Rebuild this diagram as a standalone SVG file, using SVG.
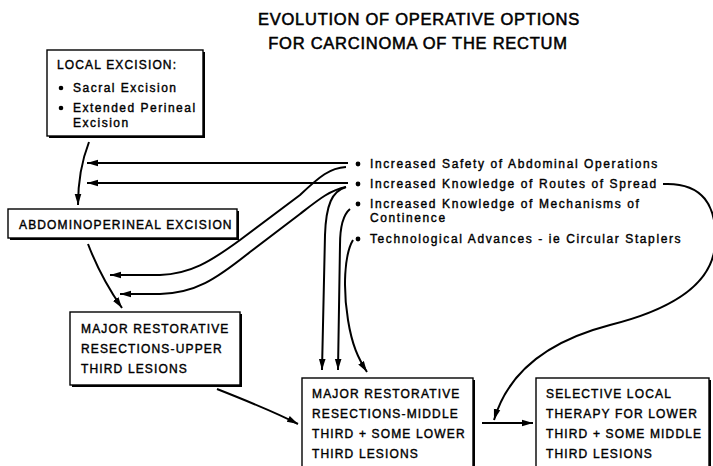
<svg xmlns="http://www.w3.org/2000/svg" width="713" height="466" viewBox="0 0 713 466">
<defs>
<marker id="ah" markerUnits="userSpaceOnUse" markerWidth="12" markerHeight="8" refX="11" refY="4" orient="auto">
<path d="M0,0.7 L11,4 L0,7.3 Z" fill="#000"/>
</marker>
<style>
.t{font-family:"Liberation Sans",Arial,sans-serif;fill:#000;stroke:#000;stroke-width:0.4}
.title{font-size:16.5px;letter-spacing:0.75px;text-anchor:middle;stroke-width:0.55}
.cap{font-size:12px;letter-spacing:1.15px}
.mix{font-size:12px;letter-spacing:1.5px}
.lst{font-size:12px;letter-spacing:1.6px}
.box{fill:#fff;stroke:#000;stroke-width:1.4}
.sh{fill:#000}
.c{fill:none;stroke:#000;stroke-width:2;marker-end:url(#ah)}
</style>
</defs>
<rect width="713" height="466" fill="#fff"/>
<g id="title">
<text class="t title" x="419" y="25">EVOLUTION OF OPERATIVE OPTIONS</text>
<text class="t title" x="418" y="49">FOR CARCINOMA OF THE RECTUM</text>
</g>
<g id="local">
<rect class="sh" x="49" y="52" width="156" height="86"/>
<rect class="box" x="47" y="50" width="156" height="86"/>
<text class="t cap" x="57" y="69">LOCAL EXCISION:</text>
<circle cx="61" cy="88" r="2.3"/>
<text class="t mix" x="73" y="92">Sacral Excision</text>
<circle cx="61" cy="108" r="2.3"/>
<text class="t mix" x="73" y="112">Extended Perineal</text>
<text class="t mix" x="73" y="127">Excision</text>
</g>
<g id="abdomino">
<rect class="sh" x="10" y="211" width="229" height="29"/>
<rect class="box" x="8" y="209" width="229" height="29"/>
<text class="t cap" x="19" y="229">ABDOMINOPERINEAL EXCISION</text>
</g>
<g id="upper">
<rect class="sh" x="72" y="314" width="170" height="73"/>
<rect class="box" x="70" y="312" width="170" height="73"/>
<text class="t cap" x="81" y="333">MAJOR RESTORATIVE</text>
<text class="t cap" x="81" y="353">RESECTIONS-UPPER</text>
<text class="t cap" x="81" y="373">THIRD LESIONS</text>
</g>
<g id="middle">
<rect class="sh" x="304" y="380" width="171" height="100"/>
<rect class="box" x="302" y="378" width="171" height="100"/>
<text class="t cap" x="312" y="398">MAJOR RESTORATIVE</text>
<text class="t cap" x="312" y="418">RESECTIONS-MIDDLE</text>
<text class="t cap" x="312" y="438">THIRD + SOME LOWER</text>
<text class="t cap" x="312" y="458">THIRD LESIONS</text>
</g>
<g id="selective">
<rect class="sh" x="538" y="380" width="173" height="100"/>
<rect class="box" x="536" y="378" width="173" height="100"/>
<text class="t cap" x="546" y="398">SELECTIVE LOCAL</text>
<text class="t cap" x="546" y="418">THERAPY FOR LOWER</text>
<text class="t cap" x="546" y="438">THIRD + SOME MIDDLE</text>
<text class="t cap" x="546" y="458">THIRD LESIONS</text>
</g>
<g id="factors">
<circle cx="358" cy="164" r="2.4"/>
<text class="t lst" x="370" y="168">Increased Safety of Abdominal Operations</text>
<circle cx="358" cy="184" r="2.4"/>
<text class="t lst" x="370" y="188">Increased Knowledge of Routes of Spread</text>
<circle cx="358" cy="204" r="2.4"/>
<text class="t lst" x="370" y="208">Increased Knowledge of Mechanisms of</text>
<text class="t lst" x="370" y="222">Continence</text>
<circle cx="358" cy="239" r="2.4"/>
<text class="t lst" x="370" y="243">Technological Advances - ie Circular Staplers</text>
</g>
<g id="connectors">
<path class="c" d="M89,142 C82,160 78,180 78,205"/>
<path class="c" d="M88,244 C96,265 108,288 122,308"/>
<path class="c" d="M217,389 C250,402 275,412 298,424"/>
<path class="c" d="M482,423 L533,423"/>
<path class="c" d="M348,163 L87,163"/>
<path class="c" d="M348,183 L87,183"/>
<path class="c" d="M346,167 C330,168 320,176 300,195 L240,240 C210,262 190,274 160,275 L110,275"/>
<path class="c" d="M346,187 C330,190 318,200 300,214 L250,252 C215,280 195,293 160,294 L120,294"/>
<path class="c" d="M346,187 C332,191 326,205 325,235 L322,370"/>
<path class="c" d="M350,209 C344,214 340,225 340,245 L338,370"/>
<path class="c" d="M353,240 C344,255 343,290 348,320 C352,345 358,358 367,372"/>
<path class="c" d="M663,184 C702,182 718,205 715,245 C712,285 670,310 610,325 C560,338 510,365 494,420"/>
</g>
</svg>
